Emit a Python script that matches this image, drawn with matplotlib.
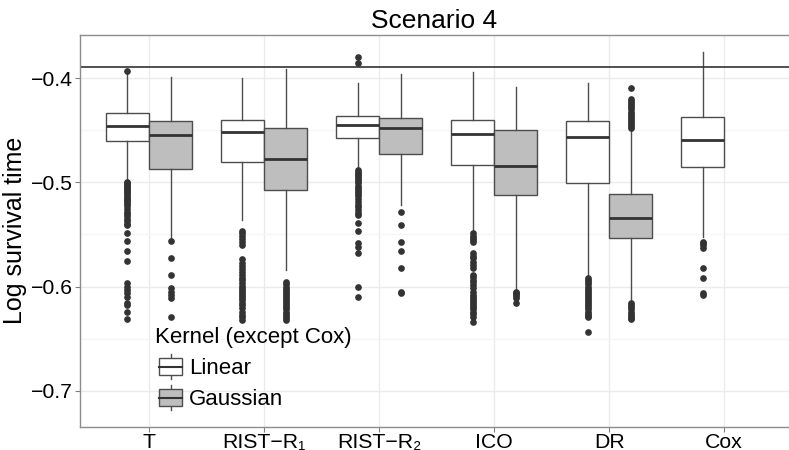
import matplotlib
matplotlib.use('Agg')
import matplotlib.pyplot as plt
from matplotlib.legend_handler import HandlerBase
from matplotlib.patches import Rectangle, Patch
from matplotlib.lines import Line2D

plt.rcParams['font.family'] = ['Liberation Sans', 'DejaVu Sans']

methods = ['T', 'RIST\u2212R\u2081', 'RIST\u2212R\u2082', 'ICO', 'DR', 'Cox']
true_value = -0.3889

# Linear kernel (Cox has only this one)
lin_whishi = [-0.3945, -0.400, -0.4048, -0.394, -0.4048, -0.375]
lin_q3 = [-0.4336, -0.440, -0.4359, -0.440, -0.4407, -0.4374]
lin_med = [-0.4455, -0.4512, -0.4448, -0.4535, -0.456, -0.4595]
lin_q1 = [-0.4599, -0.4803, -0.457, -0.4835, -0.5002, -0.4854]
lin_whislo = [-0.4976, -0.536, -0.4875, -0.547, -0.5904, -0.552]
lin_fliers = [
    [-0.3927, -0.4992, -0.5005, -0.5018, -0.503, -0.5045, -0.506, -0.5075, -0.509,
     -0.5105, -0.512, -0.5138, -0.5155, -0.517, -0.519, -0.521, -0.523, -0.5255,
     -0.528, -0.530, -0.5325, -0.535, -0.5375, -0.5395, -0.5408, -0.5488, -0.5565,
     -0.5657, -0.575, -0.5967, -0.600, -0.6032, -0.6063, -0.6096, -0.616, -0.6176,
     -0.624, -0.631],
    [-0.5462, -0.549, -0.5515, -0.554, -0.557, -0.560, -0.5737, -0.577, -0.580,
     -0.583, -0.586, -0.589, -0.5915, -0.594, -0.5965, -0.599, -0.601, -0.603,
     -0.605, -0.607, -0.609, -0.611, -0.613, -0.6155, -0.618, -0.621, -0.624,
     -0.627, -0.6295, -0.632],
    [-0.3798, -0.3856, -0.4885, -0.490, -0.4915, -0.493, -0.495, -0.497, -0.499,
     -0.501, -0.503, -0.505, -0.507, -0.509, -0.511, -0.5135, -0.516, -0.519,
     -0.5215, -0.524, -0.5265, -0.529, -0.531, -0.5392, -0.547, -0.5578, -0.5622,
     -0.568, -0.600, -0.6102],
    [-0.5488, -0.551, -0.553, -0.555, -0.5568, -0.568, -0.5705, -0.573, -0.576,
     -0.579, -0.5824, -0.5888, -0.591, -0.5935, -0.596, -0.5985, -0.601, -0.6048,
     -0.608, -0.610, -0.612, -0.614, -0.616, -0.618, -0.620, -0.622, -0.6245,
     -0.6268, -0.6288, -0.6345],
    [-0.592, -0.594, -0.596, -0.598, -0.600, -0.602, -0.604, -0.606, -0.608, -0.610,
     -0.612, -0.614, -0.616, -0.618, -0.620, -0.622, -0.624, -0.626, -0.628,
     -0.6294, -0.6432],
    [-0.5568, -0.5584, -0.560, -0.5632, -0.5823, -0.592, -0.6063, -0.608],
]

# Gaussian kernel (no Cox)
gau_whishi = [-0.3985, -0.3913, -0.3959, -0.408, -0.4496]
gau_q3 = [-0.4407, -0.448, -0.4384, -0.450, -0.511]
gau_med = [-0.4547, -0.4772, -0.448, -0.4842, -0.5338]
gau_q1 = [-0.4870, -0.5072, -0.4727, -0.512, -0.553]
gau_whislo = [-0.5555, -0.584, -0.5216, -0.6038, -0.6144]
gau_fliers = [
    [-0.5565, -0.5722, -0.5888, -0.6016, -0.6048, -0.608, -0.6111, -0.6297],
    [-0.5952, -0.5975, -0.600, -0.602, -0.604, -0.606, -0.608, -0.610, -0.612,
     -0.614, -0.616, -0.618, -0.620, -0.622, -0.624, -0.626, -0.628, -0.630, -0.632],
    [-0.528, -0.5408, -0.5568, -0.5657, -0.5824, -0.6048, -0.6063],
    [-0.6048, -0.606, -0.6075, -0.609, -0.6111, -0.616],
    [-0.4096, -0.4202, -0.422, -0.424, -0.426, -0.428, -0.430, -0.432, -0.434,
     -0.436, -0.438, -0.440, -0.442, -0.444, -0.446, -0.448, -0.616, -0.618,
     -0.620, -0.622, -0.624, -0.626, -0.628, -0.630, -0.6313],
]

edge = '#4d4d4d'
gray_fill = '#bebebe'


def make_stats(whishi, q3, med, q1, whislo, fliers):
    return [dict(whishi=a, q3=b, med=c, q1=d, whislo=e, fliers=f)
            for a, b, c, d, e, f in zip(whishi, q3, med, q1, whislo, fliers)]


class BoxKey(HandlerBase):
    # little boxplot glyph for the legend keys
    def create_artists(self, legend, orig_handle, xdescent, ydescent,
                       width, height, fontsize, trans):
        x0 = -xdescent + width * 0.14
        w = width * 0.86
        y0 = -ydescent
        cx = x0 + w / 2
        whisk = Line2D([cx, cx], [y0 - height * 0.25, y0 + height * 1.25],
                       color=edge, lw=1, transform=trans)
        box = Rectangle((x0, y0), w, height, facecolor=orig_handle.get_facecolor(),
                        edgecolor=edge, lw=1, transform=trans)
        med = Line2D([x0, x0 + w], [y0 + height / 2] * 2, color='#333333',
                     lw=1.5, transform=trans)
        return [whisk, box, med]


fig = plt.figure(figsize=(7.89, 4.5), dpi=100)
# panel runs off the right edge of the picture, as in the original
ax = fig.add_axes([0.1014, 0.0518, 0.8986, 0.8705])

common = dict(widths=0.375, patch_artist=True, showcaps=False, manage_ticks=False,
              boxprops=dict(edgecolor=edge, linewidth=1),
              whiskerprops=dict(color=edge, linewidth=1),
              medianprops=dict(color='#333333', linewidth=2),
              flierprops=dict(marker='o', markersize=3.8, markerfacecolor='#333333',
                              markeredgecolor='#333333', linestyle='none'))

lin_pos = [i + 1 - 0.1875 for i in range(len(methods))]
gau_pos = [i + 1 + 0.1875 for i in range(len(gau_med))]
b1 = ax.bxp(make_stats(lin_whishi, lin_q3, lin_med, lin_q1, lin_whislo, lin_fliers),
            positions=lin_pos, **common)
b2 = ax.bxp(make_stats(gau_whishi, gau_q3, gau_med, gau_q1, gau_whislo, gau_fliers),
            positions=gau_pos, **common)
for p in b1['boxes']:
    p.set_facecolor('white')
for p in b2['boxes']:
    p.set_facecolor(gray_fill)

ax.axhline(true_value, color='#333333', lw=1.2)

ax.set_xlim(0.4, 6.563)
ax.set_ylim(-0.73455, -0.35844)
ax.set_xticks(range(1, len(methods) + 1))
ax.set_xticklabels(methods)
ax.set_yticks([-0.7, -0.6, -0.5, -0.4])
ax.set_yticks([-0.65, -0.55, -0.45], minor=True)
ax.set_axisbelow(True)
ax.grid(True, which='major', color='#ebebeb', lw=1)
ax.grid(True, which='minor', axis='y', color='#f5f5f5', lw=1)
ax.tick_params(which='major', labelsize=15.3, length=3.5, width=0.8, color='#7f7f7f',
               pad=1.5, labelcolor='black')
ax.tick_params(axis='x', pad=1)
ax.tick_params(which='minor', length=0)
for s in ax.spines.values():
    s.set_color('#8c8c8c')
    s.set_linewidth(1)
ax.spines['right'].set_visible(False)

ax.set_title('Scenario 4', fontsize=19, pad=5)
ax.set_ylabel('Log survival time', fontsize=18, labelpad=3)

handles = [Patch(facecolor='white'), Patch(facecolor=gray_fill)]
ax.legend(handles, ['Linear', 'Gaussian'], handler_map={Patch: BoxKey()},
          title='Kernel (except Cox)', alignment='left', frameon=False,
          fontsize=16, title_fontsize=16, handlelength=1.23, handleheight=0.77,
          handletextpad=0.3, labelspacing=0.45, borderpad=0, borderaxespad=0,
          loc='upper left', bbox_to_anchor=(0.1965, 0.2725),
          bbox_transform=fig.transFigure)

fig.savefig('out.png', dpi=100)
